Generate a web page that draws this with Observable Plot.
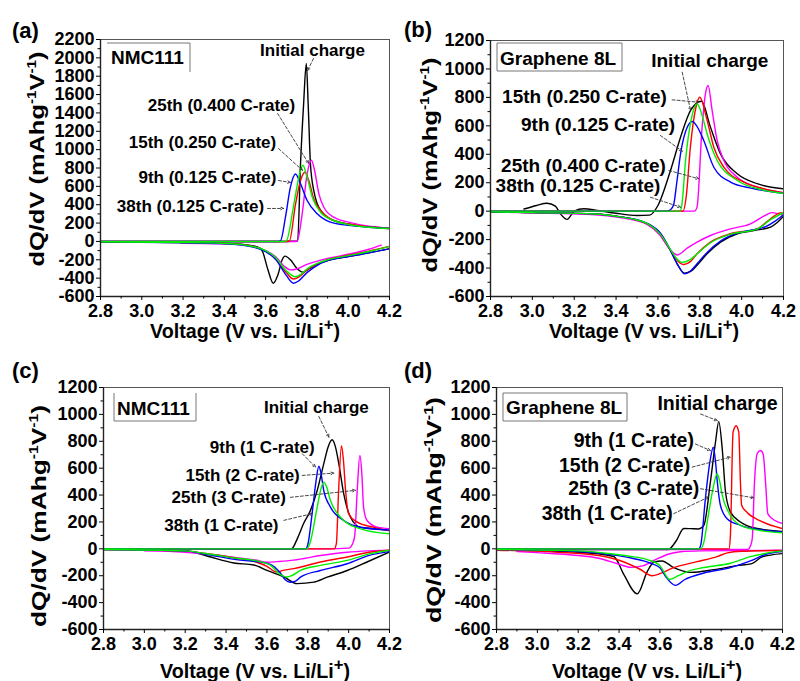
<!DOCTYPE html>
<html><head><meta charset="utf-8">
<script src="https://cdn.jsdelivr.net/npm/d3@7"></script>
<script src="https://cdn.jsdelivr.net/npm/@observablehq/plot@0.6"></script>
<style>
body{margin:0;background:#fff;}
#root{position:relative;width:800px;height:681px;overflow:hidden;background:#fff;}
.panel{position:absolute;}
</style></head><body><div id="root"></div>
<script>
// ---------------- DATA ----------------
const colors = {black:"#000000", red:"#ff0000", green:"#00ee00", blue:"#0000ff", magenta:"#ff00ff"};
const drawOrder = ["black","magenta","red","blue","green"];

const xTicks = [2.8,3.0,3.2,3.4,3.6,3.8,4.0,4.2];
const xMinor = [2.9,3.1,3.3,3.5,3.7,3.9,4.1];
const yTicksA = [-600,-400,-200,0,200,400,600,800,1000,1200,1400,1600,1800,2000,2200];
const yMinorA = [-500,-300,-100,100,300,500,700,900,1100,1300,1500,1700,1900,2100];
const yTicksB = [-600,-400,-200,0,200,400,600,800,1000,1200];
const yMinorB = [-500,-300,-100,100,300,500,700,900,1100];

const panelLetters = ["(a)","(b)","(c)","(d)"];
const insetTitles = ["NMC111","Graphene 8L","NMC111","Graphene 8L"];
const yLabelMain = "dQ/dV (mAhg";
const xLabelMain = "Voltage (V vs. Li/Li";

// Panel (a)  NMC111, slow rates
const aBlackCharge = [[2.8,0],[3.7,0],[3.755,5],[3.769,846],[3.784,1500],[3.797,1940],[3.806,1500],[3.817,846],[3.833,555],[3.85,410],[3.898,264],[3.95,215],[4.0,190],[4.1,160],[4.2,145]];
const aRedCharge = [[2.8,0],[3.7,0],[3.715,5],[3.745,410],[3.769,664],[3.79,754],[3.809,664],[3.833,464],[3.874,318],[3.93,228],[4.0,190],[4.1,160],[4.2,140]];
const aGreenCharge = [[2.8,0],[3.69,0],[3.70,5],[3.737,410],[3.761,700],[3.78,830],[3.801,700],[3.826,482],[3.866,318],[3.93,228],[4.0,185],[4.1,155],[4.2,140]];
const aBlueCharge = [[2.8,0],[3.66,0],[3.672,5],[3.696,264],[3.72,591],[3.745,735],[3.769,628],[3.801,446],[3.85,301],[3.914,210],[4.0,175],[4.1,155],[4.2,140]];
const aMagentaCharge = [[2.8,0],[3.74,0],[3.753,5],[3.777,301],[3.801,737],[3.822,885],[3.837,773],[3.858,519],[3.882,373],[3.93,264],[4.011,205],[4.1,165],[4.2,145]];
const aBlackDischarge = [[2.8,-5],[3.2,-10],[3.4,-20],[3.5,-35],[3.56,-60],[3.583,-100],[3.61,-300],[3.637,-455],[3.66,-360],[3.68,-200],[3.694,-160],[3.72,-200],[3.75,-290],[3.78,-335],[3.81,-300],[3.85,-250],[3.9,-210],[4.0,-165],[4.1,-125],[4.2,-80]];
const aBlueDischarge = [[2.8,-5],[3.2,-15],[3.4,-25],[3.5,-45],[3.6,-110],[3.65,-200],[3.7,-370],[3.735,-455],[3.76,-430],[3.8,-340],[3.85,-260],[3.9,-210],[4.0,-165],[4.1,-125],[4.2,-80]];
const aGreenDischarge = [[2.8,-5],[3.2,-12],[3.4,-22],[3.5,-40],[3.6,-100],[3.65,-180],[3.7,-320],[3.745,-385],[3.77,-360],[3.8,-300],[3.85,-240],[3.9,-200],[4.0,-155],[4.1,-110],[4.2,-55]];
const aRedDischarge = [[2.8,-5],[3.2,-12],[3.4,-22],[3.5,-40],[3.6,-105],[3.65,-190],[3.7,-340],[3.735,-410],[3.76,-390],[3.8,-310],[3.85,-245],[3.9,-200],[4.0,-150],[4.1,-105],[4.2,-55]];
const aMagentaDischarge = [[3.19,-20],[3.4,-25],[3.5,-40],[3.6,-100],[3.65,-170],[3.69,-270],[3.72,-310],[3.75,-300],[3.8,-250],[3.85,-215],[3.9,-185],[4.0,-140],[4.1,-85],[4.16,-40]];
const aNotes = [
  {text:"Initial charge", x:3.827, y:2080, x1:3.832, y1:1993, x2:3.803, y2:1862},
  {text:"25th (0.400 C-rate)", x:3.386, y:1481, x1:3.658, y1:1394, x2:3.808, y2:849},
  {text:"15th (0.250 C-rate)", x:3.294, y:1078, x1:3.662, y1:1012, x2:3.779, y2:773},
  {text:"9th (0.125 C-rate)", x:3.318, y:697, x1:3.662, y1:664, x2:3.72, y2:642},
  {text:"38th (0.125 C-rate)", x:3.236, y:380, x1:3.609, y1:359, x2:3.687, y2:359}
];

// Panel (b)  Graphene 8L, slow rates
const bBlackCharge = [[2.96,15],[3.02,40],[3.07,56],[3.11,35],[3.134,-18],[3.166,-58],[3.2,0],[3.246,17],[3.31,5],[3.4,-15],[3.5,-30],[3.56,-28],[3.6,40],[3.66,286],[3.708,520],[3.756,708],[3.808,773],[3.851,591],[3.899,403],[3.979,263],[4.074,193],[4.2,157]];
const bBlueCharge = [[2.8,0],[3.64,0],[3.66,10],[3.675,45],[3.69,200],[3.708,403],[3.74,590],[3.765,630],[3.785,600],[3.819,497],[3.867,309],[3.947,204],[4.05,160],[4.2,126]];
const bGreenCharge = [[2.8,0],[3.705,0],[3.715,50],[3.732,356],[3.76,650],[3.787,755],[3.81,680],[3.835,544],[3.883,356],[3.979,216],[4.1,150],[4.2,125]];
const bRedCharge = [[2.8,0],[3.72,0],[3.735,100],[3.755,450],[3.78,720],[3.80,801],[3.835,638],[3.867,450],[3.915,309],[4.01,204],[4.1,160],[4.2,130]];
const bMagentaCharge = [[2.8,0],[3.775,0],[3.787,30],[3.811,591],[3.827,825],[3.84,884],[3.859,708],[3.883,497],[3.915,356],[3.979,239],[4.074,169],[4.2,130]];
const bBlackDischarge = [[2.8,-5],[3.0,-10],[3.3,-20],[3.42,-40],[3.5,-62],[3.549,-89],[3.612,-159],[3.66,-276],[3.692,-370],[3.727,-436],[3.76,-420],[3.787,-380],[3.835,-300],[3.899,-218],[3.979,-159],[4.058,-136],[4.138,-112],[4.17,-80],[4.2,-35]];
const bBlueDischarge = [[2.8,-5],[3.0,-10],[3.3,-20],[3.42,-40],[3.5,-60],[3.549,-85],[3.612,-155],[3.66,-276],[3.692,-370],[3.727,-440],[3.76,-415],[3.787,-370],[3.835,-290],[3.899,-210],[3.979,-155],[4.058,-130],[4.12,-105],[4.16,-70],[4.2,-25]];
const bGreenDischarge = [[2.8,-5],[3.0,-10],[3.3,-20],[3.42,-40],[3.5,-62],[3.55,-88],[3.61,-160],[3.66,-270],[3.69,-335],[3.715,-360],[3.75,-345],[3.787,-300],[3.851,-222],[3.947,-162],[4.074,-126],[4.138,-60],[4.2,-10]];
const bRedDischarge = [[2.8,-5],[3.0,-10],[3.3,-20],[3.42,-40],[3.5,-62],[3.55,-90],[3.61,-160],[3.66,-275],[3.695,-350],[3.724,-375],[3.755,-355],[3.787,-300],[3.851,-218],[3.947,-159],[4.074,-124],[4.138,-54],[4.185,-12],[4.2,-12]];
const bMagentaDischarge = [[2.8,-5],[3.0,-12],[3.3,-25],[3.42,-45],[3.5,-68],[3.55,-95],[3.61,-170],[3.65,-255],[3.692,-308],[3.74,-260],[3.787,-218],[3.851,-171],[3.947,-124],[4.042,-89],[4.106,-35],[4.146,-10],[4.2,-30]];
const bNotes = [
  {text:"Initial charge", x:3.848, y:1059, x1:3.716, y1:977, x2:3.756, y2:708},
  {text:"15th (0.250 C-rate)", x:3.249, y:801, x1:3.668, y1:783, x2:3.795, y2:766},
  {text:"9th (0.125 C-rate)", x:3.314, y:607, x1:3.612, y1:532, x2:3.716, y2:422},
  {text:"25th (0.400 C-rate)", x:3.244, y:321, x1:3.652, y1:286, x2:3.795, y2:228},
  {text:"38th (0.125 C-rate)", x:3.218, y:181, x1:3.564, y1:98, x2:3.708, y2:28}
];

// Panel (c)  NMC111, fast rates
const cBlackCharge = [[2.8,0],[3.72,0],[3.75,80],[3.78,190],[3.81,275],[3.846,434],[3.878,632],[3.9,760],[3.919,811],[3.935,760],[3.952,632],[3.976,409],[4.009,235],[4.058,160],[4.12,150],[4.2,135]];
const cBlueCharge = [[2.8,0],[3.79,0],[3.80,30],[3.821,260],[3.84,500],[3.854,614],[3.865,560],[3.878,434],[3.911,310],[3.976,211],[4.058,161],[4.2,140]];
const cGreenCharge = [[2.8,0],[3.795,0],[3.81,40],[3.846,310],[3.865,450],[3.878,496],[3.89,470],[3.911,360],[3.96,235],[4.058,149],[4.2,112]];
const cRedCharge = [[2.8,0],[3.93,0],[3.94,40],[3.95,400],[3.965,768],[3.975,650],[3.985,434],[4.0,260],[4.042,198],[4.12,161],[4.2,135]];
const cMagentaCharge = [[3.3,0],[3.9,0],[4.0,5],[4.02,40],[4.03,100],[4.042,435],[4.055,694],[4.065,550],[4.073,310],[4.09,211],[4.14,161],[4.2,150]];
const cBlackDischarge = [[2.8,-5],[3.2,-15],[3.31,-55],[3.438,-105],[3.536,-120],[3.6,-160],[3.683,-209],[3.748,-259],[3.83,-248],[3.895,-211],[3.993,-161],[4.09,-98],[4.2,-24]];
const cBlueDischarge = [[2.8,-5],[3.2,-15],[3.3,-40],[3.45,-80],[3.55,-95],[3.617,-115],[3.666,-180],[3.69,-230],[3.715,-248],[3.74,-240],[3.764,-211],[3.862,-161],[3.993,-111],[4.1,-49],[4.2,-20]];
const cGreenDischarge = [[2.8,-5],[3.2,-15],[3.3,-35],[3.45,-70],[3.55,-90],[3.62,-125],[3.66,-185],[3.699,-209],[3.72,-200],[3.764,-160],[3.862,-123],[3.993,-86],[4.107,-36],[4.2,-10]];
const cRedDischarge = [[2.8,-5],[3.2,-15],[3.3,-35],[3.45,-70],[3.55,-100],[3.6,-130],[3.645,-172],[3.68,-160],[3.732,-147],[3.862,-98],[3.993,-61],[4.1,-25],[4.2,-10]];
const cMagentaDischarge = [[3.0,-15],[3.2,-25],[3.35,-45],[3.45,-65],[3.55,-85],[3.6,-100],[3.65,-95],[3.732,-84],[3.862,-50],[3.993,-25],[4.1,-15],[4.2,-10]];
const cNotes = [
  {text:"Initial charge", x:3.842, y:1054, x1:3.854, y1:985, x2:3.903, y2:831},
  {text:"9th (1 C-rate)", x:3.577, y:752, x1:3.773, y1:707, x2:3.838, y2:608},
  {text:"15th (2 C-rate)", x:3.481, y:546, x1:3.773, y1:546, x2:3.927, y2:563},
  {text:"25th (3 C-rate)", x:3.413, y:380, x1:3.715, y1:383, x2:4.033, y2:435},
  {text:"38th (1 C-rate)", x:3.377, y:175, x1:3.683, y1:212, x2:3.822, y2:262}
];

// Panel (d)  Graphene 8L, fast rates
const dBlackCharge = [[2.8,-5],[3.64,-5],[3.68,60],[3.717,151],[3.75,150],[3.79,148],[3.815,174],[3.847,497],[3.872,793],[3.888,946],[3.905,744],[3.921,423],[3.945,275],[3.994,200],[4.076,151],[4.2,130]];
const dBlueCharge = [[2.8,0],[3.79,0],[3.80,30],[3.823,381],[3.845,650],[3.861,756],[3.872,650],[3.881,497],[3.896,324],[3.929,224],[3.994,175],[4.1,140],[4.2,125]];
const dGreenCharge = [[2.8,0],[3.8,0],[3.815,50],[3.839,270],[3.86,450],[3.88,559],[3.893,500],[3.905,399],[3.937,270],[3.994,175],[4.09,136],[4.2,120]];
const dRedCharge = [[2.8,0],[3.938,0],[3.945,100],[3.958,867],[3.973,916],[3.986,867],[3.994,497],[4.0,325],[4.027,270],[4.092,208],[4.2,150]];
const dMagentaCharge = [[3.0,-5],[4.03,-5],[4.045,30],[4.052,77],[4.063,497],[4.076,707],[4.092,731],[4.105,707],[4.117,497],[4.128,262],[4.149,225],[4.2,189]];
const dBlackDischarge = [[2.8,-10],[3.2,-25],[3.374,-57],[3.423,-190],[3.489,-335],[3.538,-169],[3.57,-100],[3.61,-90],[3.668,-140],[3.75,-175],[3.864,-155],[3.978,-125],[4.05,-110],[4.1,-60],[4.2,-35]];
const dBlueDischarge = [[2.8,-5],[3.2,-20],[3.35,-40],[3.45,-65],[3.52,-90],[3.554,-107],[3.6,-140],[3.63,-210],[3.676,-272],[3.72,-230],[3.815,-180],[3.945,-140],[4.043,-90],[4.12,-40],[4.2,-20]];
const dGreenDischarge = [[2.8,-5],[3.2,-15],[3.35,-35],[3.45,-55],[3.538,-80],[3.6,-125],[3.648,-228],[3.69,-200],[3.733,-169],[3.815,-139],[3.945,-107],[4.043,-58],[4.12,-33],[4.2,-15]];
const dRedDischarge = [[2.8,-10],[3.1,-25],[3.3,-50],[3.4,-85],[3.5,-150],[3.562,-200],[3.6,-185],[3.668,-140],[3.782,-95],[3.88,-58],[3.93,-30],[4.0,-18],[4.2,-12]];
const dMagentaDischarge = [[2.9,-20],[3.0,-28],[3.2,-50],[3.3,-70],[3.4,-115],[3.46,-138],[3.52,-125],[3.586,-75],[3.64,-40],[3.7,-22],[3.8,-15],[4.2,-10]];
const dNotes = [
  {text:"Initial charge", x:3.882, y:1077, x1:3.799, y1:1003, x2:3.88, y2:954},
  {text:"9th (1 C-rate)", x:3.472, y:806, x1:3.774, y1:780, x2:3.847, y2:731},
  {text:"15th (2 C-rate)", x:3.427, y:621, x1:3.758, y1:608, x2:3.945, y2:682},
  {text:"25th (3 C-rate)", x:3.472, y:447, x1:3.799, y1:447, x2:4.06, y2:379},
  {text:"38th (1 C-rate)", x:3.342, y:262, x1:3.668, y1:262, x2:3.839, y2:386}
];

// ---------------- LAYOUT ----------------
const FONT = "'Liberation Sans', Arial, Helvetica, sans-serif";
const panels = [
  {left:0, top:0, width:400, height:340, ml:100, mr:11, mt:39, mb:44, yDomain:[-600,2200], yTicks:yTicksA, yMinor:yMinorA,
   charge:{black:aBlackCharge, red:aRedCharge, green:aGreenCharge, blue:aBlueCharge, magenta:aMagentaCharge},
   discharge:{black:aBlackDischarge, red:aRedDischarge, green:aGreenDischarge, blue:aBlueDischarge, magenta:aMagentaDischarge},
   notes:aNotes, noteSize:17, letterX:12, letterY:38, ylx:44, yly:159, ylLen:215, xlx:245, xly:338, xlLen:190,
   inset:{x:111, y:64, box:[107,43,190,72], sides:"tr"}},
  {left:400, top:0, width:400, height:340, ml:90, mr:17, mt:40, mb:44, yDomain:[-600,1200], yTicks:yTicksB, yMinor:yMinorB,
   charge:{black:bBlackCharge, red:bRedCharge, green:bGreenCharge, blue:bBlueCharge, magenta:bMagentaCharge},
   discharge:{black:bBlackDischarge, red:bRedDischarge, green:bGreenDischarge, blue:bBlueDischarge, magenta:bMagentaDischarge},
   notes:bNotes, noteSize:19, letterX:4, letterY:37, ylx:37, yly:165, ylLen:215, xlx:244, xly:338, xlLen:190,
   inset:{x:100, y:65, box:[97,43,222,71], sides:"trbl"}},
  {left:0, top:340, width:400, height:341, ml:103, mr:11, mt:47, mb:52, yDomain:[-600,1200], yTicks:yTicksB, yMinor:yMinorB,
   charge:{black:cBlackCharge, red:cRedCharge, green:cGreenCharge, blue:cBlueCharge, magenta:cMagentaCharge},
   discharge:{black:cBlackDischarge, red:cRedDischarge, green:cGreenDischarge, blue:cBlueDischarge, magenta:cMagentaDischarge},
   notes:cNotes, noteSize:17, letterX:12, letterY:38, ylx:46, yly:176, ylLen:222, xlx:255, xly:338, xlLen:190,
   inset:{x:117, y:75, box:[114,53,196,81], sides:"rbl"}},
  {left:400, top:340, width:400, height:341, ml:96, mr:18, mt:47, mb:52, yDomain:[-600,1200], yTicks:yTicksB, yMinor:yMinorB,
   charge:{black:dBlackCharge, red:dRedCharge, green:dGreenCharge, blue:dBlueCharge, magenta:dMagentaCharge},
   discharge:{black:dBlackDischarge, red:dRedDischarge, green:dGreenDischarge, blue:dBlueDischarge, magenta:dMagentaDischarge},
   notes:dNotes, noteSize:19.5, letterX:4, letterY:38, ylx:41, yly:170, ylLen:226, xlx:247, xly:338, xlLen:190,
   inset:{x:106, y:74, box:[103,53,227,81], sides:"trbl"}}
];

const root = document.getElementById("root");

panels.forEach((p, i) => {
  const marks = [];
  for (const c of drawOrder) {
    for (const arr of [p.charge[c], p.discharge[c]]) {
      marks.push(Plot.line(arr, {x: d => d[0], y: d => d[1], stroke: colors[c], strokeWidth: 1.4, curve: "monotone-x", clip: true}));
    }
  }
  marks.push(
    Plot.frame({stroke: "#555", strokeWidth: 1}),
    Plot.ruleX([2.8], {stroke: "#222", strokeWidth: 1.4}),
    Plot.ruleY([p.yDomain[0]], {stroke: "#222", strokeWidth: 1.4}),
    Plot.axisY(p.yTicks, {anchor: "left", tickSize: 4, tickPadding: 2, tickFormat: d => String(d), fontSize: 18, fontWeight: "bold", label: null}),
    Plot.axisY(p.yMinor, {anchor: "left", tickSize: 2.5, tickFormat: () => "", label: null}),
    Plot.axisX(xTicks, {anchor: "bottom", tickSize: 4, tickPadding: 4, tickFormat: d => d.toFixed(1), fontSize: 18, fontWeight: "bold", label: null}),
    Plot.axisX(xMinor, {anchor: "bottom", tickSize: 2.5, tickFormat: () => "", label: null}),
    Plot.arrow(p.notes, {x1: "x1", y1: "y1", x2: "x2", y2: "y2", stroke: "#333", strokeWidth: 0.9, strokeDasharray: "3,2", headLength: 5, headAngle: 50}),
    Plot.text(p.notes, {x: "x", y: "y", text: "text", fontSize: p.noteSize, fontWeight: "bold", fill: "black"})
  );
  const svg = Plot.plot({
    width: p.width, height: p.height,
    marginLeft: p.ml, marginRight: p.mr, marginTop: p.mt, marginBottom: p.mb,
    x: {domain: [2.8, 4.2]},
    y: {domain: p.yDomain},
    style: {fontFamily: FONT, fontSize: "17px", fontWeight: "bold", overflow: "visible", background: "transparent", color: "black"},
    marks
  });
  const div = document.createElement("div");
  div.className = "panel";
  div.style.left = p.left + "px";
  div.style.top = p.top + "px";
  div.appendChild(svg);
  root.appendChild(div);

  const g = d3.select(svg).append("g")
    .attr("font-family", FONT).attr("font-weight", "bold").attr("fill", "black").attr("text-anchor", "start");
  // panel letter
  g.append("text").attr("x", p.letterX).attr("y", p.letterY).attr("font-size", 22).text(panelLetters[i]);
  // y label
  const yl = g.append("text")
    .attr("transform", `translate(${p.ylx},${p.yly}) rotate(-90)`)
    .attr("text-anchor", "middle").attr("font-size", 20)
    .attr("textLength", p.ylLen).attr("lengthAdjust", "spacingAndGlyphs");
  yl.append("tspan").text(yLabelMain);
  yl.append("tspan").attr("dy", -8).attr("font-size", 12).text("-1");
  yl.append("tspan").attr("dy", 8).text("V");
  yl.append("tspan").attr("dy", -8).attr("font-size", 12).text("-1");
  yl.append("tspan").attr("dy", 8).text(")");
  // x label
  const xl = g.append("text").attr("x", p.xlx).attr("y", p.xly)
    .attr("text-anchor", "middle").attr("font-size", 20)
    .attr("textLength", p.xlLen).attr("lengthAdjust", "spacingAndGlyphs");
  xl.append("tspan").text(xLabelMain);
  xl.append("tspan").attr("dy", -8).attr("font-size", 17).text("+");
  xl.append("tspan").attr("dy", 8).text(")");
  // inset box
  const [bx0, by0, bx1, by1] = p.inset.box;
  const s = p.inset.sides;
  const lines = [];
  if (s.includes("t")) lines.push([bx0, by0, bx1, by0]);
  if (s.includes("r")) lines.push([bx1, by0, bx1, by1]);
  if (s.includes("b")) lines.push([bx0, by1, bx1, by1]);
  if (s.includes("l")) lines.push([bx0, by0, bx0, by1]);
  lines.forEach(l => g.append("line").attr("x1", l[0]).attr("y1", l[1]).attr("x2", l[2]).attr("y2", l[3]).attr("stroke", "#777").attr("stroke-width", 1));
  g.append("text").attr("x", p.inset.x).attr("y", p.inset.y).attr("font-size", 19).text(insetTitles[i]);
});
</script></body></html>
